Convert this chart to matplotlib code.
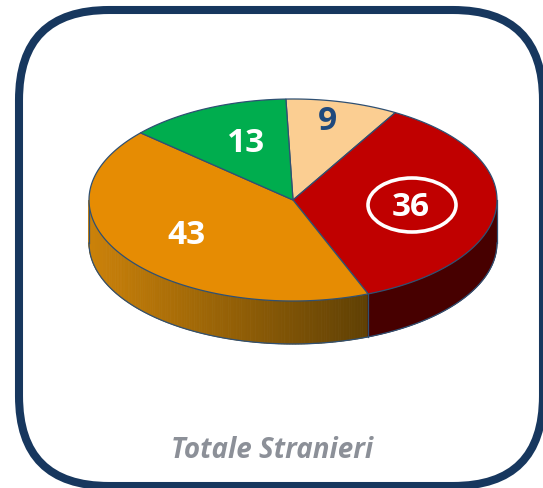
import numpy as np
import matplotlib
matplotlib.use("Agg")
import matplotlib.pyplot as plt
from matplotlib.patches import FancyBboxPatch, Ellipse, Polygon
from matplotlib.colors import to_rgb

values = [9, 36, 43, 13]
labels = ["9", "36", "43", "13"]
colors = ["#FBCE92", "#C00000", "#E68C03", "#00AD4E"]
label_colors = ["#1F497D", "white", "white", "white"]
title = "Totale Stranieri"

W, H = 543, 489
cx, cy, rx, ry, depth = 293, 201, 204, 101, 43
start = 92.0
edge = "#2F5073"

fig = plt.figure(figsize=(W / 100, H / 100), dpi=100)
ax = fig.add_axes([0, 0, 1, 1])
ax.set_xlim(0, W)
ax.set_ylim(H, 0)
ax.axis("off")

ax.add_patch(FancyBboxPatch((19, 11), 524, 476,
                            boxstyle="round,pad=0,rounding_size=90",
                            fc="white", ec="#17375E", lw=5.8, zorder=1))


def pt(a, dy=0):
    a = np.radians(a)
    return np.column_stack([cx + rx * np.cos(a), cy - ry * np.sin(a) + dy])


vals = np.array(values, float)
sweeps = vals / vals.sum() * 360
ends = start - np.cumsum(sweeps)
starts = ends + sweeps


def mix(a, b, t):
    a, b = np.array(to_rgb(a)), np.array(to_rgb(b))
    return a + (b - a) * t


# side wall: orange slice fades left to right, red slice is flat dark
ang_red_end = ends[1]
ang_org = np.linspace(180, 360 + ang_red_end, 140)
for a0, a1 in zip(ang_org[:-1], ang_org[1:]):
    x_mid = pt(np.array([(a0 + a1) / 2]))[0, 0]
    t = (x_mid - (cx - rx)) / (pt(np.array([ang_red_end]))[0, 0] - (cx - rx))
    col = mix("#CC8209", "#5F4004", t)
    top = pt(np.array([a0, a1]))
    bot = pt(np.array([a1, a0]), depth)
    ax.add_patch(Polygon(np.vstack([top, bot]), closed=True, fc=col, ec=col, lw=0.6, zorder=2))

arc = np.linspace(ang_red_end, 0, 60)
ax.add_patch(Polygon(np.vstack([pt(arc), pt(arc[::-1], depth)]), closed=True,
                     fc="#470000", ec="#470000", lw=0.6, zorder=2))

# wall outline
arc = np.linspace(180, 360, 160)
ax.plot(*pt(arc, depth).T, color=edge, lw=0.9, zorder=3)
ax.plot([cx - rx, cx - rx], [cy, cy + depth], color=edge, lw=0.9, zorder=3)
ax.plot([cx + rx, cx + rx], [cy, cy + depth], color=edge, lw=0.9, zorder=3)
seam = pt(np.array([ang_red_end]))[0]
ax.plot([seam[0], seam[0]], [seam[1], seam[1] + depth], color=edge, lw=0.9, zorder=3)

# top face
for s, e, c in zip(starts, ends, colors):
    arc = np.linspace(s, e, 120)
    ax.add_patch(Polygon(np.vstack([[cx, cy], pt(arc)]), closed=True,
                         fc=c, ec=edge, lw=0.9, zorder=4))

# value labels
label_xy = [(327, 122), (411, 208), (186, 235), (246, 143)]
for xy, lab, lc in zip(label_xy, labels, label_colors):
    ax.text(*xy, lab, color=lc, fontsize=24, fontweight="bold", family="Open Sans",
            ha="center", va="center", zorder=6)

ax.add_patch(Ellipse((412, 206), 88, 54, fc="none", ec="white", lw=2.6, zorder=6))

ax.text(272, 451, title, color="#8C9098", fontsize=20, fontweight="bold", style="italic",
        family="Open Sans", ha="center", va="center", zorder=6)

fig.savefig("out.png", dpi=100)
